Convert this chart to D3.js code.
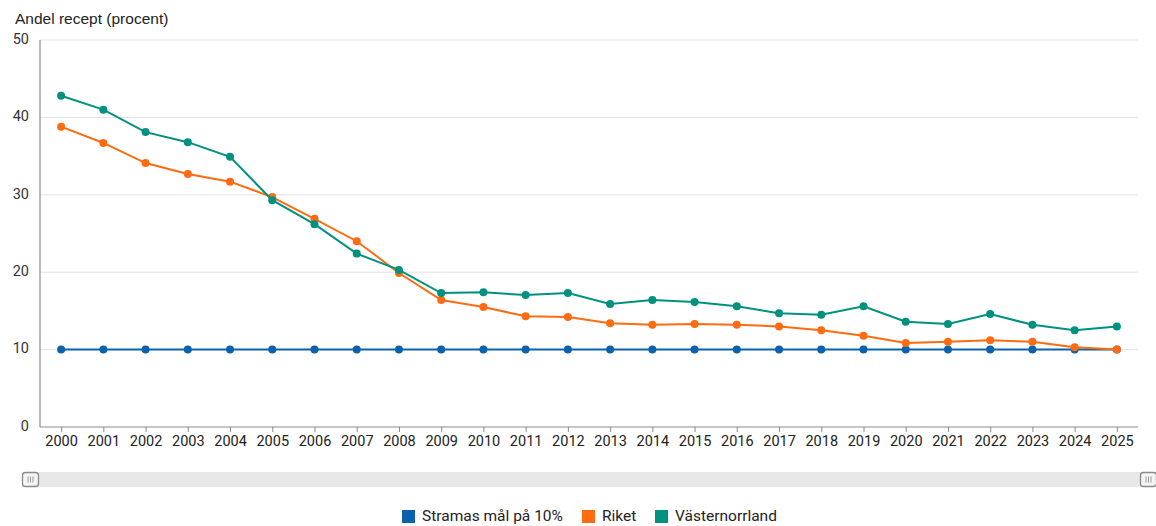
<!DOCTYPE html>
<html>
<head>
<meta charset="utf-8">
<script src="https://cdn.jsdelivr.net/npm/d3@7"></script>
<style>
  body { margin: 0; background: #fff; }
  text { font-family: Roboto, "Noto Sans", sans-serif; }
</style>
</head>
<body>
<div id="chart"></div>
<script>
// data
const years = d3.range(2000, 2026).map(String);
const yTicks = [0, 10, 20, 30, 40, 50];
const stramas = years.map(() => 10);
const riket = [38.8, 36.7, 34.1, 32.7, 31.7, 29.7, 26.9, 24.0, 19.9, 16.4, 15.5, 14.3, 14.2,
    13.4, 13.2, 13.3, 13.2, 13.0, 12.5, 11.8, 10.85, 11.0, 11.2, 11.0, 10.3, 10.0];
const vasternorrland = [42.8, 41.0, 38.1, 36.8, 34.9, 29.3, 26.2, 22.4, 20.3, 17.3, 17.4, 17.05, 17.3,
    15.9, 16.4, 16.15, 15.6, 14.7, 14.5, 15.6, 13.6, 13.3, 14.6, 13.2, 12.5, 13.0];
const seriesNames = ["Stramas mål på 10%", "Riket", "Västernorrland"];
const seriesColours = ["#0a62ac", "#ff6b10", "#00917f"];

const W = 1156, H = 526;
const margin = {top: 40, right: 18, bottom: 99, left: 40};

const svg = d3.select("#chart")
    .append("svg")
    .attr("width", W)
    .attr("height", H);

// Scales
const x = d3.scalePoint()
    .domain(years)
    .range([margin.left, W - margin.right])
    .padding(0.5);

const y = d3.scaleLinear()
    .domain([0, 50])
    .range([H - margin.bottom, margin.top]);

// Gridlines
svg.append("g")
    .selectAll("line")
    .data(yTicks.filter(d => d > 0))
    .join("line")
    .attr("x1", margin.left)
    .attr("x2", W - margin.right)
    .attr("y1", d => y(d))
    .attr("y2", d => y(d))
    .attr("stroke", "#e3e3e3")
    .attr("stroke-width", 1);

// Y axis labels
svg.append("g")
    .selectAll("text")
    .data(yTicks)
    .join("text")
    .attr("x", 29)
    .attr("y", d => y(d))
    .attr("text-anchor", "end")
    .attr("dominant-baseline", "middle")
    .style("font-size", "14.5px")
    .style("fill", "#333")
    .text(d => d);

// Axis lines
svg.append("line")
    .attr("x1", margin.left).attr("x2", margin.left)
    .attr("y1", margin.top).attr("y2", y(0))
    .attr("stroke", "#8c8c8c").attr("stroke-width", 1.2);

const xAxis = svg.append("g")
    .attr("transform", `translate(0,${y(0)})`)
    .call(d3.axisBottom(x).tickSize(5).tickPadding(4));
xAxis.select(".domain").attr("stroke", "#8c8c8c").attr("stroke-width", 1.2)
    .attr("d", `M${margin.left},0H${W - margin.right}`);
xAxis.selectAll(".tick line").attr("stroke", "#8c8c8c");
xAxis.selectAll(".tick text")
    .style("font-size", "14.5px")
    .style("font-family", "Roboto, sans-serif")
    .style("fill", "#222");

// Title
svg.append("text")
    .attr("x", 15)
    .attr("y", 24)
    .style("font-family", "'Liberation Sans', Arial, sans-serif")
    .style("font-size", "15.5px")
    .style("fill", "#222")
    .text("Andel recept (procent)");

// Lines
const allSeries = [stramas, riket, vasternorrland];
const line = d3.line()
    .x((d, i) => x(years[i]))
    .y(d => y(d));

allSeries.forEach((values, k) => {
    const g = svg.append("g");
    g.append("path")
        .datum(values)
        .attr("d", line)
        .attr("fill", "none")
        .attr("stroke", seriesColours[k])
        .attr("stroke-width", 2);
    g.selectAll("circle")
        .data(values)
        .join("circle")
        .attr("cx", (d, i) => x(years[i]))
        .attr("cy", d => y(d))
        .attr("r", 4)
        .attr("fill", seriesColours[k]);
});

// Scrollbar (slider)
const sb = svg.append("g");
sb.append("rect")
    .attr("x", 22).attr("y", 472)
    .attr("width", 1126).attr("height", 15)
    .attr("fill", "#e8e8e8");
[22, 1140].forEach(hx => {
    const h = sb.append("g").attr("transform", `translate(${hx},472)`);
    h.append("rect")
        .attr("x", 0.5).attr("y", 0.5)
        .attr("width", 16).attr("height", 14)
        .attr("rx", 3)
        .attr("fill", "#f5f5f5")
        .attr("stroke", "#8a8a8a")
        .attr("stroke-width", 1.3);
    [6, 8.5, 11].forEach(lx => {
        h.append("line")
            .attr("x1", lx).attr("x2", lx)
            .attr("y1", 4.5).attr("y2", 10.5)
            .attr("stroke", "#999").attr("stroke-width", 1);
    });
});

// Legend
const legendX = [402, 582, 655];
const legend = svg.append("g");
seriesNames.forEach((name, k) => {
    legend.append("rect")
        .attr("x", legendX[k]).attr("y", 510)
        .attr("width", 13).attr("height", 13)
        .attr("fill", seriesColours[k]);
    legend.append("text")
        .attr("x", legendX[k] + 20)
        .attr("y", 517)
        .attr("dominant-baseline", "middle")
        .style("font-size", "15.5px")
        .style("fill", "#222")
        .text(name);
});
</script>
</body>
</html>
